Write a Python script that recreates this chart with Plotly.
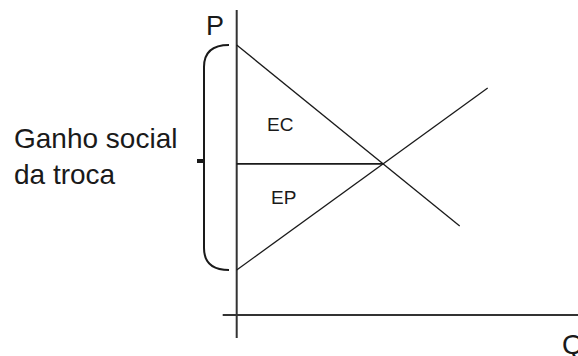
import plotly.graph_objects as go

# ---- data (arbitrary units: Q horizontal, P vertical) ----
demand_q = [0.0, 22.3]
demand_p = [27.0, 8.9]
supply_q = [0.0, 25.1]
supply_p = [4.5, 22.7]
q_axis = [-1.4, 34.2]
p_axis = [-2.3, 30.5]
axis_labels = ["P", "Q"]
area_labels = ["EC", "EP"]
brace_label = "Ganho social<br>da troca"

# equilibrium from the two lines
sd = (demand_p[1] - demand_p[0]) / (demand_q[1] - demand_q[0])
ss = (supply_p[1] - supply_p[0]) / (supply_q[1] - supply_q[0])
eq_q = (supply_p[0] - demand_p[0]) / (sd - ss)
eq_p = demand_p[0] + sd * eq_q

INK = "#1a1a1a"
fig = go.Figure()
# axes
fig.add_trace(go.Scatter(x=[0, 0], y=p_axis, mode="lines", line=dict(color="#333", width=2)))
fig.add_trace(go.Scatter(x=q_axis, y=[0, 0], mode="lines", line=dict(color="#333", width=2)))
# demand and supply
fig.add_trace(go.Scatter(x=demand_q, y=demand_p, mode="lines", line=dict(color=INK, width=1.3)))
fig.add_trace(go.Scatter(x=supply_q, y=supply_p, mode="lines", line=dict(color=INK, width=1.3)))
# price line to equilibrium
fig.add_trace(go.Scatter(x=[0, eq_q], y=[eq_p, eq_p], mode="lines", line=dict(color=INK, width=1.8)))

# brace spanning from supply intercept to demand intercept
top, bot = demand_p[0], supply_p[0]
bx, ex, r = -3.27, -0.77, 2.2
mid = (top + bot) / 2 - 0.35
path = (f"M {ex},{top} Q {bx},{top} {bx},{top - r} L {bx},{bot + r} "
        f"Q {bx},{bot} {ex},{bot}")
fig.add_shape(type="path", path=path, xref="x", yref="y", line=dict(color=INK, width=2))
fig.add_trace(go.Scatter(x=[bx - 0.7, bx], y=[mid, mid], mode="lines", line=dict(color=INK, width=4)))

FONT = "Arial, Liberation Sans, sans-serif"
fig.add_annotation(x=-2.22, y=28.9, text=axis_labels[0], showarrow=False, xanchor="center",
                   yanchor="middle", font=dict(family=FONT, size=27, color=INK))
fig.add_annotation(x=32.3, y=-2.9, text=axis_labels[1], showarrow=False, xanchor="left",
                   yanchor="middle", font=dict(family=FONT, size=28, color=INK))
fig.add_annotation(x=4.33, y=19.05, text=area_labels[0], showarrow=False, xanchor="center",
                   yanchor="middle", font=dict(family=FONT, size=19, color=INK))
fig.add_annotation(x=4.68, y=11.8, text=area_labels[1], showarrow=False, xanchor="center",
                   yanchor="middle", font=dict(family=FONT, size=19, color=INK))
fig.add_annotation(x=-22.5, y=15.9, text=brace_label, showarrow=False, xanchor="left",
                   yanchor="middle", align="left", font=dict(family=FONT, size=28, color=INK))

fig.update_layout(
    width=578, height=356, margin=dict(l=0, r=0, t=0, b=0),
    paper_bgcolor="white", plot_bgcolor="white", showlegend=False,
    xaxis=dict(range=[-23.67, 34.13], visible=False, fixedrange=True),
    yaxis=dict(range=[-4.1, 31.5], visible=False, fixedrange=True),
)
fig.write_html("out.html", config={"displayModeBar": False},
               post_script="document.body.style.margin='0px';document.body.style.overflow='hidden';")
